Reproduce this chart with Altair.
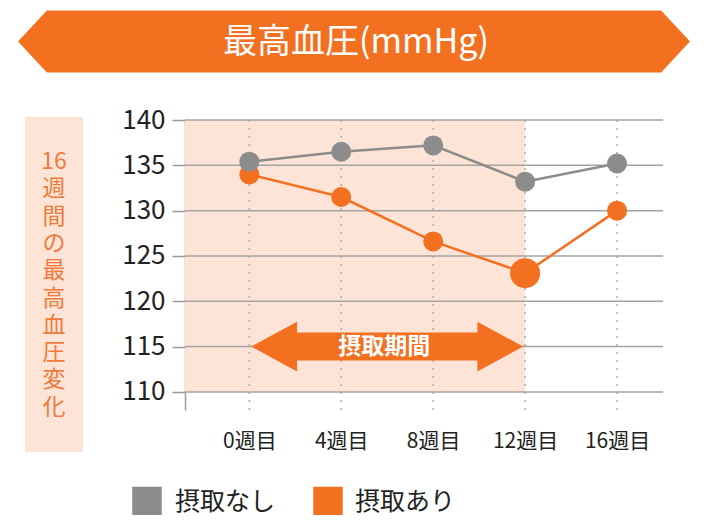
import altair as alt
import pandas as pd

# ---- data ----
weeks = [0, 4, 8, 12, 16]
series_names = ["摂取なし", "摂取あり"]
no_intake = [135.4, 136.5, 137.2, 133.2, 135.2]
with_intake = [134.0, 131.5, 126.6, 123.1, 130.0]
y_ticks = [110, 115, 120, 125, 130, 135, 140]
x_labels = ["0週目", "4週目", "8週目", "12週目", "16週目"]
title_text = "最高血圧(mmHg)"
side_label = "16週間の最高血圧変化"
arrow_label = "摂取期間"
intake_period = [0, 12]
highlight_week = 12

# ---- styles ----
GRAY = "#8c8c8c"
ORANGE = "#f37021"
SHADE = "#fde4d6"
FONT = "Noto Sans CJK JP"
W, H = 478, 290

rows = []
for w, v in zip(weeks, with_intake):
    rows.append({"week": w, "value": v, "series": series_names[1]})
for w, v in zip(weeks, no_intake):
    rows.append({"week": w, "value": v, "series": series_names[0]})
df = pd.DataFrame(rows)

xs = alt.Scale(domain=[-2.8, 18], nice=False, zero=False)
ys = alt.Scale(domain=[108, 140], nice=False, zero=False)
cs = alt.Scale(domain=series_names, range=[GRAY, ORANGE])

label_map = "{" + ",".join(f"'{w}':'{l}'" for w, l in zip(weeks, x_labels)) + "}"
ax_x = alt.Axis(values=weeks, labelExpr=f"{label_map}[datum.value]", title=None)
ax_y = alt.Axis(values=y_ticks, title=None)

one = pd.DataFrame({"k": [0]})

# shaded intake region
shade_df = pd.DataFrame({"x": [-2.8], "x2": [intake_period[1]],
                         "y": [max(y_ticks)], "y2": [min(y_ticks)]})
shade = alt.Chart(shade_df).mark_rect(color=SHADE).encode(
    x=alt.X("x:Q", scale=xs, axis=ax_x),
    x2="x2:Q",
    y=alt.Y("y:Q", scale=ys, axis=ax_y),
    y2="y2:Q",
)

# vertical dotted gridlines
vgrid = alt.Chart(pd.DataFrame({"week": weeks})).mark_rule(
    color="#ababab", strokeWidth=1.5, strokeDash=[2, 6]
).encode(
    x=alt.X("week:Q", scale=xs, axis=ax_x),
    y=alt.value(0),
    y2=alt.value(H),
)

# horizontal gridlines
hgrid = alt.Chart(pd.DataFrame({"tick": y_ticks})).mark_rule(
    color="#a3a3a3", strokeWidth=1.5
).encode(
    y=alt.Y("tick:Q", scale=ys, axis=ax_y),
    x=alt.value(0),
    x2=alt.value(W),
)

# double arrow for intake period
arrow_path = ("M-1,0 L-0.663,-0.183 L-0.663,-0.103 L0.663,-0.103 L0.663,-0.183 "
              "L1,0 L0.663,0.183 L0.663,0.103 L-0.663,0.103 L-0.663,0.183 Z")
arrow_df = pd.DataFrame({"mid": [sum(intake_period) / 2], "y": [115], "label": [arrow_label]})
arrow = alt.Chart(arrow_df).mark_point(
    shape=arrow_path, size=272 ** 2, filled=True, color=ORANGE, opacity=1, strokeWidth=0
).encode(
    x=alt.X("mid:Q", scale=xs, axis=ax_x),
    y=alt.Y("y:Q", scale=ys, axis=ax_y),
)
arrow_text = alt.Chart(arrow_df).mark_text(
    color="white", font=FONT, fontSize=23, fontWeight="bold", baseline="middle", dx=-3
).encode(
    x=alt.X("mid:Q", scale=xs, axis=ax_x),
    y=alt.Y("y:Q", scale=ys, axis=ax_y),
    text="label:N",
)

# data lines and points
lines = alt.Chart(df).mark_line(strokeWidth=2.5).encode(
    x=alt.X("week:Q", scale=xs, axis=ax_x),
    y=alt.Y("value:Q", scale=ys, axis=ax_y),
    color=alt.Color("series:N", scale=cs, legend=None),
)
points = alt.Chart(df).mark_circle(size=400, opacity=1).encode(
    x=alt.X("week:Q", scale=xs, axis=ax_x),
    y=alt.Y("value:Q", scale=ys, axis=ax_y),
    color=alt.Color("series:N", scale=cs, legend=None),
)
big = alt.Chart(df).transform_filter(
    (alt.datum.week == highlight_week) & (alt.datum.series == series_names[1])
).mark_circle(size=900, opacity=1).encode(
    x=alt.X("week:Q", scale=xs, axis=ax_x),
    y=alt.Y("value:Q", scale=ys, axis=ax_y),
    color=alt.Color("series:N", scale=cs, legend=None),
)

# manual legend
legend_layers = []
for name, sq_x, tx_x in zip(series_names, [-38, 143], [-10, 170]):
    ldf = pd.DataFrame({"series": [name]})
    legend_layers.append(
        alt.Chart(ldf).mark_square(size=870, opacity=1).encode(
            x=alt.value(sq_x), y=alt.value(381.5),
            color=alt.Color("series:N", scale=cs, legend=None),
        )
    )
    legend_layers.append(
        alt.Chart(ldf).mark_text(
            font=FONT, fontSize=25, color="#222", align="left", baseline="middle"
        ).encode(x=alt.value(tx_x), y=alt.value(381.5), text="series:N")
    )

# title banner
banner_path = "M-1,0 L-0.914,-0.0923 L0.914,-0.0923 L1,0 L0.914,0.0923 L-0.914,0.0923 Z"
banner = alt.Chart(one).mark_point(
    shape=banner_path, size=672 ** 2, filled=True, color=ORANGE, opacity=1, strokeWidth=0
).encode(x=alt.value(169), y=alt.value(-78.5))
title = alt.Chart(pd.DataFrame({"t": [title_text]})).mark_text(
    color="white", font=FONT, fontSize=34, baseline="middle", align="center"
).encode(x=alt.value(171), y=alt.value(-77), text="t:N")

# side label
side_box = alt.Chart(one).mark_rect(color=SHADE).encode(
    x=alt.value(-160), x2=alt.value(-102), y=alt.value(-3), y2=alt.value(332)
)
side_lines = ["16"] + list(side_label[2:])
side_text = alt.Chart(pd.DataFrame({"t": ["\n".join(side_lines)]})).mark_text(
    color="#ee7a3c", font=FONT, fontSize=23, lineBreak="\n", lineHeight=27.3,
    baseline="middle", align="center"
).encode(x=alt.value(-131), y=alt.value(42), text="t:N")

chart = alt.layer(
    shade, vgrid, hgrid, arrow, arrow_text, lines, points, big,
    banner, title, side_box, side_text, *legend_layers
).properties(
    width=W, height=H,
    autosize=alt.AutoSizeParams(type="none"),
    padding={"left": 177, "top": 112, "right": 40, "bottom": 105},
    background="white",
).configure_view(stroke=None).configure_axisY(
    domainColor="#9a9a9a", domainWidth=1.5, tickColor="#9a9a9a", tickWidth=1.5,
    tickSize=13, labelFontSize=26, labelColor="#222", labelPadding=7,
    labelFont=FONT, grid=False,
).configure_axisX(
    domain=False, ticks=False, labelFontSize=21, labelColor="#222",
    labelPadding=20, labelFont=FONT, grid=False,
)

chart.save("out.html", embed_options={"renderer": "svg", "actions": False})
